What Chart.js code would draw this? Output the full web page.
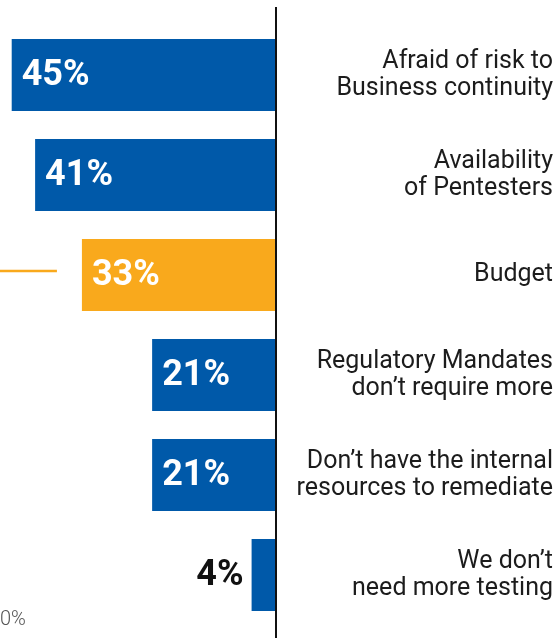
<!DOCTYPE html>
<html>
<head>
<meta charset="utf-8">
<script src="https://cdn.jsdelivr.net/npm/chart.js@4/dist/chart.umd.min.js"></script>
<style>
  html, body { margin: 0; padding: 0; background: #fff; }
  #wrap { width: 558px; height: 638px; position: relative; }
</style>
</head>
<body>
<div id="wrap"><canvas id="myChart"></canvas></div>
<script>
var reasons = [
    ['Afraid of risk to', 'Business continuity'],
    ['Availability', 'of Pentesters'],
    ['Budget'],
    ['Regulatory Mandates', 'don\u2019t require more'],
    ['Don\u2019t have the internal', 'resources to remediate'],
    ['We don\u2019t', 'need more testing']
];
var percents = [45, 41, 33, 21, 21, 4];
var barColors = ['#0059A9', '#0059A9', '#F9A91C', '#0059A9', '#0059A9', '#0059A9'];

// value text on each bar, the leader line off the Budget bar, and the divider
var extras = {
    id: 'extras',
    afterDatasetsDraw: function (chart) {
        var ctx = chart.ctx;
        var meta = chart.getDatasetMeta(0);
        ctx.save();
        ctx.font = 'bold 36px Roboto';
        ctx.textBaseline = 'middle';
        meta.data.forEach(function (bar, i) {
            var v = percents[i];
            if (v > 10) {
                ctx.fillStyle = '#fff';
                ctx.textAlign = 'left';
                ctx.fillText(v + '%', bar.x + 10, bar.y + 1);
            } else {
                ctx.fillStyle = '#111';
                ctx.textAlign = 'right';
                ctx.fillText(v + '%', bar.x - 8, bar.y + 1);
            }
        });

        var budget = meta.data[2];
        ctx.strokeStyle = '#F9A91C';
        ctx.lineWidth = 2.5;
        ctx.beginPath();
        ctx.moveTo(0, budget.y - 4);
        ctx.lineTo(budget.x - 25, budget.y - 4);
        ctx.stroke();

        var x0 = chart.scales.x.getPixelForValue(0) + 1;
        ctx.strokeStyle = '#111';
        ctx.lineWidth = 2;
        ctx.beginPath();
        ctx.moveTo(x0, 7);
        ctx.lineTo(x0, chart.height);
        ctx.stroke();

        ctx.font = '300 20px Roboto';
        ctx.fillStyle = '#555';
        ctx.textAlign = 'left';
        ctx.fillText('0%', 0, 620);
        ctx.restore();
    }
};

var ctx = document.getElementById('myChart').getContext('2d');
var chart = new Chart(ctx, {
    type: 'bar',
    data: {
        labels: reasons,
        datasets: [{
            data: percents,
            backgroundColor: barColors,
            barPercentage: 0.72,
            categoryPercentage: 1
        }]
    },
    options: {
        indexAxis: 'y',
        responsive: true,
        maintainAspectRatio: false,
        animation: false,
        layout: { padding: { top: 25, bottom: 13, left: 0, right: 5 } },
        plugins: {
            legend: { display: false },
            tooltip: { enabled: false }
        },
        scales: {
            x: {
                display: false,
                reverse: true,
                min: 0,
                max: 47
            },
            y: {
                position: 'right',
                grid: { display: false },
                border: { display: false },
                // fixed label column; labels end flush with its right edge
                afterFit: function (scale) {
                    scale.width = 278;
                    scale.paddingTop = 0;
                    scale.paddingBottom = 0;
                },
                ticks: {
                    crossAlign: 'far',
                    color: '#1c1c1c',
                    font: { family: 'Roboto', size: 25, lineHeight: 1.06 }
                }
            }
        }
    },
    plugins: [extras]
});
</script>
</body>
</html>
